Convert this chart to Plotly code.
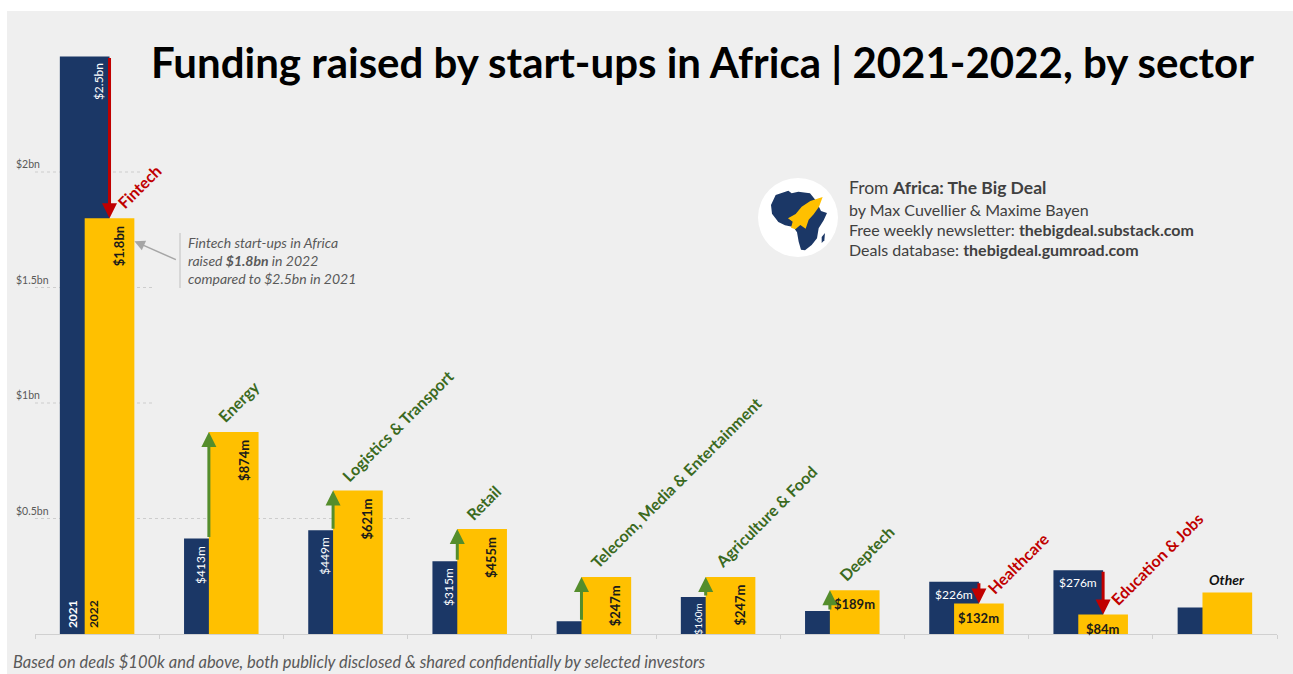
import plotly.graph_objects as go

# ---- data ($m) ----
sectors = [
    "Fintech", "Energy", "Logistics & Transport", "Retail",
    "Telecom, Media & Entertainment", "Agriculture & Food", "Deeptech",
    "Healthcare", "Education & Jobs", "Other",
]
funding_2021 = [2500, 413, 449, 315, 55, 160, 100, 226, 276, 115]
funding_2022 = [1800, 874, 621, 455, 247, 247, 189, 132, 84, 180]
labels_2021 = ["$2.5bn", "$413m", "$449m", "$315m", "", "$160m", "", "$226m", "$276m", ""]
labels_2022 = ["$1.8bn", "$874m", "$621m", "$455m", "$247m", "$247m", "$189m", "$132m", "$84m", ""]
years = ["2021", "2022"]
y_ticks = [500, 1000, 1500, 2000]
y_tick_text = ["$0.5bn", "$1bn", "$1.5bn", "$2bn"]

# ---- styling ----
NAVY = "#1b3766"
GOLD = "#ffc000"
RED = "#c00000"
GREEN_ARROW = "#548d2c"
GREEN_TEXT = "#3b6a1e"
BG = "#efefef"
GREY_TXT = "#595959"
FONT = "Lato"

# label orientation per bar: True = vertical text inside the bar
vertical_2021 = [True, True, True, True, False, True, False, False, False, False]
vertical_2022 = [True, True, True, True, True, True, False, False, False, False]

W, H = 1293, 674
L, R, T, B = 35, 1277, 40, 634
PX_PER_M = 0.231
Y_MAX = (B - T) / PX_PER_M


def px_x(p):
    return (p - L) / (R - L)


def px_y(p):
    return (B - p) / (B - T)


x = list(range(len(sectors)))
fig = go.Figure()
fig.add_bar(x=x, y=funding_2021, width=0.4, offset=-0.3, name=years[0],
            marker=dict(color=NAVY, line_width=0), hoverinfo="skip")
fig.add_bar(x=x, y=funding_2022, width=0.4, offset=-0.1, name=years[1],
            marker=dict(color=GOLD, line_width=0), hoverinfo="skip")

ann = []
shapes = []

# background panel with a thin white frame on top/left
shapes.append(dict(type="rect", xref="paper", yref="paper", layer="below",
                   x0=px_x(0), x1=px_x(W), y0=px_y(0), y1=px_y(11),
                   fillcolor="white", line_width=0))
shapes.append(dict(type="rect", xref="paper", yref="paper", layer="below",
                   x0=px_x(0), x1=px_x(7), y0=px_y(H), y1=px_y(0),
                   fillcolor="white", line_width=0))

# partial dotted gridlines
grid_ends = {500: 412, 1000: 153, 1500: 153, 2000: 143}
for v, lab in zip(y_ticks, y_tick_text):
    shapes.append(dict(type="line", xref="paper", yref="y", layer="below",
                       x0=0, x1=px_x(grid_ends[v]), y0=v, y1=v,
                       line=dict(color="#cdcdcd", width=1, dash="dot")))
    ann.append(dict(xref="paper", yref="y", x=px_x(14), y=v, xanchor="left",
                    yanchor="bottom", yshift=0, showarrow=False, text=lab,
                    font=dict(family=FONT, size=10.5, color=GREY_TXT)))

# value labels
for i in x:
    v1, v2 = funding_2021[i], funding_2022[i]
    if labels_2021[i]:
        if vertical_2021[i]:
            xs = 1 if v1 > v2 else -21
            size = 10 if v1 * PX_PER_M < 45 else 12
            ann.append(dict(x=i, y=v1, xshift=xs, yshift=-5, xanchor="center",
                            yanchor="top", textangle=-90, showarrow=False,
                            text=labels_2021[i],
                            font=dict(family=FONT, size=size, color="white")))
        else:
            ann.append(dict(x=i, y=v1, xshift=-12.4, yshift=-3, xanchor="center",
                            yanchor="top", showarrow=False, text=labels_2021[i],
                            font=dict(family=FONT, size=12, color="white")))
    if labels_2022[i]:
        if vertical_2022[i]:
            ann.append(dict(x=i, y=v2, xshift=22, yshift=-6, xanchor="center",
                            yanchor="top", textangle=-90, showarrow=False,
                            text="<b>%s</b>" % labels_2022[i],
                            font=dict(family=FONT, size=13, color="#1a1a1a")))
        else:
            ann.append(dict(x=i, y=v2, xshift=12.4, yshift=-4, xanchor="center",
                            yanchor="top", showarrow=False,
                            text="<b>%s</b>" % labels_2022[i],
                            font=dict(family=FONT, size=13, color="#1a1a1a")))

# year markers at the foot of the first pair
ann.append(dict(x=0, y=0, xshift=-25, yshift=4, xanchor="center", yanchor="bottom",
                textangle=-90, showarrow=False, text="<b>%s</b>" % years[0],
                font=dict(family=FONT, size=12, color="white")))
ann.append(dict(x=0, y=0, xshift=-4, yshift=4, xanchor="center", yanchor="bottom",
                textangle=-90, showarrow=False, text="<b>%s</b>" % years[1],
                font=dict(family=FONT, size=12, color="#1a1a1a")))

# change arrows and sector names
for i in x:
    v1, v2 = funding_2021[i], funding_2022[i]
    name = sectors[i]
    if name == "Other":
        ann.append(dict(x=i, y=v2, xshift=12, yshift=2, xanchor="center",
                        yanchor="bottom", showarrow=False,
                        text="<b><i>%s</i></b>" % name,
                        font=dict(family=FONT, size=14, color="#111111")))
        continue
    up = v2 > v1
    col = GREEN_ARROW if up else RED
    ax_x = i - 0.1 if up else i + 0.1
    ann.append(dict(x=ax_x, y=v2, ax=ax_x, ay=v1, axref="x", ayref="y",
                    showarrow=True, arrowhead=2, arrowsize=1, arrowwidth=3,
                    arrowcolor=col, standoff=0, text=""))
    ann.append(dict(x=i, y=v2, xshift=(-10 if up else 14), yshift=3,
                    xanchor="left", yanchor="bottom", textangle=-45,
                    showarrow=False, text="<b>%s</b>" % name,
                    font=dict(family=FONT, size=16,
                              color=GREEN_TEXT if up else RED)))

# fintech call-out
ann.append(dict(x=0.3, y=1700, ax=43, ay=19, showarrow=True, arrowhead=2,
                arrowsize=1.4, arrowwidth=1.5, arrowcolor="#a6a6a6", standoff=0,
                text=""))
shapes.append(dict(type="line", xref="paper", yref="paper",
                   x0=px_x(180), x1=px_x(180), y0=px_y(233), y1=px_y(288),
                   line=dict(color="#bfbfbf", width=1)))
ann.append(dict(xref="paper", yref="paper", x=px_x(186), y=px_y(232),
                xanchor="left", yanchor="top", align="left", showarrow=False,
                text="<i>Fintech start-ups in Africa<br>raised <b>$1.8bn</b> in 2022"
                     "<br>compared to $2.5bn in 2021</i>",
                font=dict(family=FONT, size=14, color=GREY_TXT)))

# title
ann.append(dict(xref="paper", yref="paper", x=px_x(702), y=px_y(62),
                xanchor="center", yanchor="middle", showarrow=False,
                text="<b>Funding raised by start-ups in Africa | 2021-2022, by sector</b>",
                font=dict(family=FONT, size=42, color="black")))

# source block
src_lines = [
    "From <b>Africa: The Big Deal</b>",
    "by Max Cuvellier &amp; Maxime Bayen",
    "Free weekly newsletter: <b>thebigdeal.substack.com</b>",
    "Deals database: <b>thebigdeal.gumroad.com</b>",
]
for k, (line, yy) in enumerate(zip(src_lines, [187, 209, 229, 249])):
    ann.append(dict(xref="paper", yref="paper", x=px_x(847), y=px_y(yy),
                    xanchor="left", yanchor="middle", showarrow=False, text=line,
                    font=dict(family=FONT, size=(17.5 if k == 0 else 16),
                              color="#404040")))

# logo: white disc, Africa silhouette and a rocket
shapes.append(dict(type="circle", xref="paper", yref="paper",
                   x0=px_x(758), x1=px_x(838), y0=px_y(257), y1=px_y(178),
                   fillcolor="white", line_width=0))


def to_path(pts):
    seg = ["%s%.5f,%.5f" % ("M" if j == 0 else "L", px_x(755 + a / 3.0), px_y(175 + b / 3.0))
           for j, (a, b) in enumerate(pts)]
    return " ".join(seg) + " Z"


africa = [(62, 60), (100, 47), (110, 55), (130, 50), (165, 55), (182, 76),
          (198, 108), (216, 114), (206, 136), (191, 160), (186, 190),
          (170, 210), (150, 226), (138, 224), (131, 200), (126, 172),
          (115, 156), (90, 151), (70, 141), (51, 116), (48, 90)]
madagascar = [(200, 186), (210, 174), (208, 196), (200, 204)]
rocket = [(203, 66), (192, 95), (176, 118), (161, 134), (152, 161), (136, 150),
          (121, 163), (108, 158), (113, 140), (99, 130), (122, 117), (140, 95),
          (166, 78)]
shapes.append(dict(type="path", xref="paper", yref="paper", path=to_path(africa),
                   fillcolor=NAVY, line_width=0))
shapes.append(dict(type="path", xref="paper", yref="paper", path=to_path(madagascar),
                   fillcolor=NAVY, line_width=0))
shapes.append(dict(type="path", xref="paper", yref="paper", path=to_path(rocket),
                   fillcolor=GOLD, line_width=0))

# footnote
ann.append(dict(xref="paper", yref="paper", x=px_x(11), y=px_y(674),
                xanchor="left", yanchor="bottom", showarrow=False,
                text="<i>Based on deals $100k and above, both publicly disclosed &amp; "
                     "shared confidentially by selected investors</i>",
                font=dict(family=FONT, size=16.5, color=GREY_TXT)))

fig.update_layout(
    width=W, height=H,
    margin=dict(l=L, r=W - R, t=T, b=H - B),
    paper_bgcolor=BG, plot_bgcolor=BG,
    barmode="overlay", showlegend=False,
    font=dict(family=FONT),
    annotations=ann, shapes=shapes,
    xaxis=dict(range=[-0.5, len(sectors) - 0.5], showgrid=False, zeroline=False,
               showline=True, linecolor="#d0d0d0", linewidth=1,
               tickmode="array", tickvals=[k - 0.5 for k in range(len(sectors) + 1)],
               ticktext=[""] * (len(sectors) + 1), ticks="outside", ticklen=4,
               tickcolor="#d0d0d0", fixedrange=True),
    yaxis=dict(range=[0, Y_MAX], showgrid=False, zeroline=False, showticklabels=False,
               fixedrange=True),
)

fig.write_html("out.html", config={"displayModeBar": False})
